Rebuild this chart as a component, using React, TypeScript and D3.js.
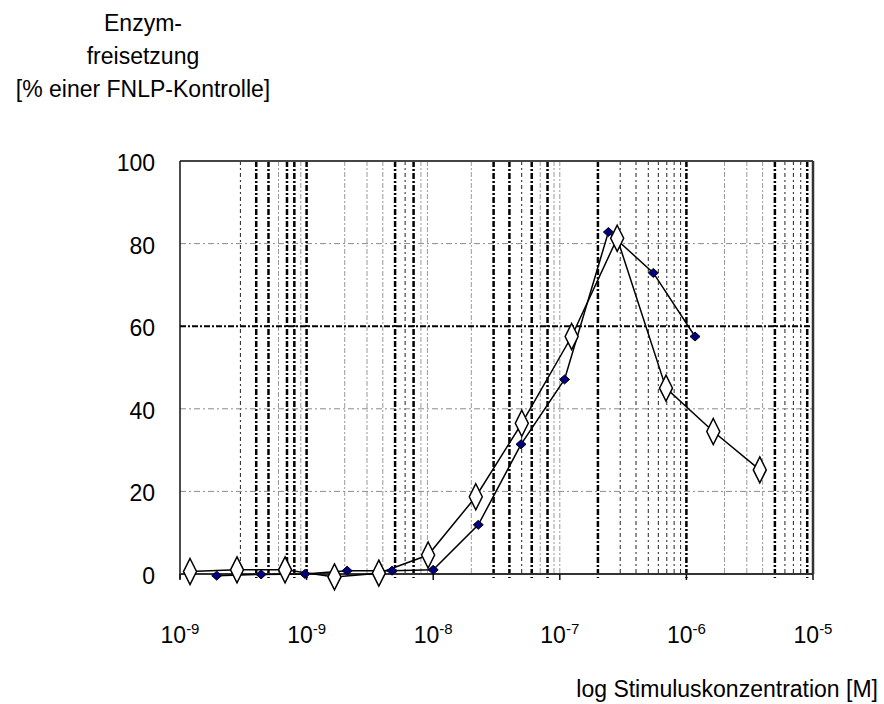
import * as d3 from "d3"

// Konzentrationen [M] und Enzymfreisetzung [% FNLP-Kontrolle]
const openConc = [1.2e-10, 2.82e-10, 6.76e-10, 1.66e-9, 3.72e-9, 9.12e-9, 2.17e-8, 5.01e-8, 1.24e-7, 2.84e-7, 6.9e-7, 1.63e-6, 3.8e-6]
const openValues = [0.6, 1.0, 1.0, -0.7, 0.2, 4.6, 18.7, 36.5, 57.5, 81.3, 45.0, 34.5, 25.2]

const filledConc = [1.95e-10, 4.37e-10, 9.7e-10, 2.09e-9, 4.73e-9, 1.0e-8, 2.27e-8, 4.94e-8, 1.09e-7, 2.42e-7, 5.48e-7, 1.17e-6]
const filledValues = [-0.4, -0.1, 0, 0.8, 0.8, 1.0, 11.9, 31.4, 47.1, 82.8, 72.9, 57.5]

const xTicks = [1e-10, 1e-9, 1e-8, 1e-7, 1e-6, 1e-5]
const xTickExponents = ["-9", "-9", "-8", "-7", "-6", "-5"]
const yTicks = [0, 20, 40, 60, 80, 100]

const titleLines = ["Enzym-", "freisetzung", "[% einer FNLP-Kontrolle]"]
const xTitle = "log Stimuluskonzentration [M]"

// look of the (rather messy) log grid, per decade: multipliers 2..9
type GridKind = "none" | "light" | "dark" | "heavy"
const minorGrid: Record<string, GridKind[]> = {
  "-10": ["none", "dark", "heavy", "heavy", "light", "heavy", "heavy", "light"],
  "-9": ["light", "light", "light", "heavy", "dark", "heavy", "light", "light"],
  "-8": ["light", "heavy", "heavy", "dark", "heavy", "light", "heavy", "light"],
  "-7": ["heavy", "dark", "dark", "dark", "dark", "dark", "dark", "dark"],
  "-6": ["light", "light", "light", "heavy", "dark", "dark", "dark", "heavy"],
}
const majorGrid: Record<string, GridKind> = { "-9": "heavy", "-8": "none", "-7": "light", "-6": "heavy" }

const gridStyle: Record<GridKind, { stroke: string; width: number; dash: string }> = {
  none: { stroke: "none", width: 0, dash: "" },
  light: { stroke: "#9a9a9a", width: 1, dash: "5,2,2,2" },
  dark: { stroke: "#222", width: 1, dash: "4,3,2,3" },
  heavy: { stroke: "#000", width: 2.5, dash: "6,2,2,2" },
}

const W = 884
const H = 704
const font = "'Liberation Sans', Arial, sans-serif"

export default function App() {
  const x = d3.scaleLog().domain([1e-10, 1e-5]).range([180, 813])
  const y = d3.scaleLinear().domain([0, 100]).range([574, 161])

  const vGrid: { v: number; kind: GridKind }[] = []
  for (let e = -10; e <= -6; e++) {
    const base = Math.pow(10, e)
    minorGrid[String(e)].forEach((kind, i) => vGrid.push({ v: base * (i + 2), kind }))
    if (e > -10) vGrid.push({ v: base, kind: majorGrid[String(e)] })
  }

  const line = d3
    .line<[number, number]>()
    .x((d) => x(d[0]))
    .y((d) => y(d[1]))

  const openPts = openConc.map((c, i) => [c, openValues[i]] as [number, number])
  const filledPts = filledConc.map((c, i) => [c, filledValues[i]] as [number, number])

  const [x0, x1] = x.range()
  const [y0, y1] = y.range()

  return (
    <svg width={W} height={H} style={{ position: "fixed", left: 0, top: 0, background: "#fff" }} fontFamily={font}>
      {/* vertical grid */}
      {vGrid
        .filter((g) => g.kind !== "none")
        .map((g, i) => {
          const s = gridStyle[g.kind]
          return (
            <line key={"v" + i} x1={x(g.v)} x2={x(g.v)} y1={y1} y2={y0 + (g.kind === "heavy" ? 4 : 0)}
              stroke={s.stroke} strokeWidth={s.width} strokeDasharray={s.dash} />
          )
        })}
      {/* horizontal grid */}
      {yTicks
        .filter((t) => t > 0 && t < 100)
        .map((t) => {
          const s = t === 60 ? gridStyle.heavy : { stroke: "#8a8a8a", width: 1, dash: "6,3,2,3" }
          return (
            <line key={"h" + t} x1={x0} x2={x1} y1={y(t)} y2={y(t)} stroke={s.stroke}
              strokeWidth={t === 60 ? 2 : s.width} strokeDasharray={s.dash} />
          )
        })}

      {/* frame and axis */}
      <line x1={x0} x2={x1} y1={y1} y2={y1} stroke="#444" strokeWidth={2} />
      <line x1={x1} x2={x1} y1={y1} y2={y0} stroke="#333" strokeWidth={2.5} />
      <line x1={x0} x2={x0} y1={y1} y2={y0 + 5} stroke="#111" strokeWidth={1.5} />
      <line x1={x0} x2={x1} y1={y0} y2={y0} stroke="#333" strokeWidth={2} />
      {xTicks.map((t) => (
        <line key={"t" + t} x1={x(t)} x2={x(t)} y1={y0} y2={y0 + 6} stroke="#111" strokeWidth={1.5} />
      ))}

      {/* y tick labels */}
      {yTicks.map((t) => (
        <text key={"yl" + t} x={155} y={y(t) + 2} dy="0.35em" textAnchor="end" fontSize={23} fill="#000">
          {t}
        </text>
      ))}

      {/* x tick labels */}
      {xTicks.map((t, i) => (
        <text key={"xl" + t} x={x(t)} y={643} textAnchor="middle" fontSize={23} fill="#000">
          10
          <tspan fontSize={15} dy={-9}>
            {xTickExponents[i]}
          </tspan>
        </text>
      ))}

      {/* series lines */}
      <path d={line(filledPts) ?? ""} fill="none" stroke="#000" strokeWidth={1.5} />
      <path d={line(openPts) ?? ""} fill="none" stroke="#000" strokeWidth={1.5} />

      {/* markers */}
      {filledPts.map((p, i) => {
        const cx = x(p[0])
        const cy = y(p[1])
        return (
          <path key={"f" + i} d={`M${cx},${cy - 4.5}L${cx + 5},${cy}L${cx},${cy + 4.5}L${cx - 5},${cy}Z`}
            fill="#000080" stroke="#000" strokeWidth={1} />
        )
      })}
      {openPts.map((p, i) => {
        const cx = x(p[0])
        const cy = y(p[1])
        return (
          <path key={"o" + i} d={`M${cx},${cy - 13}L${cx + 6.5},${cy}L${cx},${cy + 13}L${cx - 6.5},${cy}Z`}
            fill="#fff" stroke="#000" strokeWidth={1.5} />
        )
      })}

      {/* titles */}
      {titleLines.map((s, i) => (
        <text key={"tt" + i} x={143} y={31 + i * 33} textAnchor="middle" fontSize={23} fill="#000">
          {s}
        </text>
      ))}
      <text x={878} y={697} textAnchor="end" fontSize={23} fill="#000">
        {xTitle}
      </text>
    </svg>
  )
}
